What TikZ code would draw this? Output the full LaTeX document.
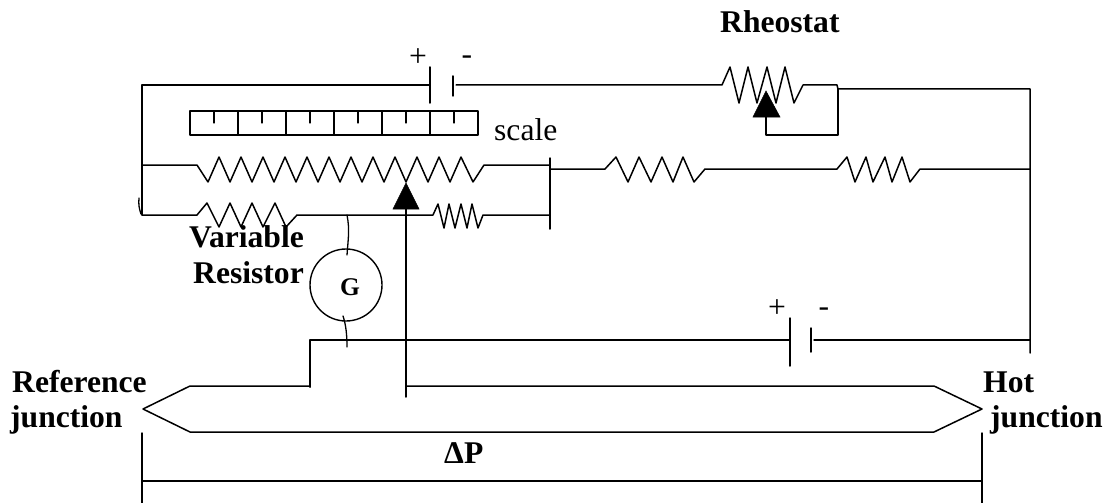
\documentclass[tikz,border=0pt]{standalone}
\usepackage{fontspec}
\setmainfont{Liberation Serif}
\tikzset{
  x=1pt,y=-1pt,
  wire/.style={line width=1.5pt,line cap=round,line join=round,draw=black},
  thinwire/.style={line width=1.3pt,line cap=round,draw=black},
  dimwire/.style={line width=2pt,draw=black},
  slider/.style={fill=black,draw=black,line width=0.5pt},
  lab/.style={font=\fontsize{31.6}{35}\selectfont\bfseries,inner sep=0pt,anchor=base west},
  plainlab/.style={font=\fontsize{31.6}{35}\selectfont,inner sep=0pt,anchor=base west},
  sign/.style={font=\fontsize{31.6}{35}\selectfont,inner sep=0pt},
  gauge/.style={circle,draw=black,line width=1.4pt,minimum size=72pt,inner sep=0pt},
}
\begin{document}
\begin{tikzpicture}
\useasboundingbox (0,0) rectangle (1109,503);
% junction coordinates
\coordinate (tl) at (142,85);
\coordinate (ml) at (142,165);
\coordinate (ll) at (142,215);
\coordinate (barT) at (550,158);
\coordinate (barB) at (550,229);
\coordinate (barM) at (550,169);
\coordinate (tr) at (1030,89);
\coordinate (mr) at (1030,169);
\coordinate (br) at (1030,340);
\coordinate (brEnd) at (1030,353);
\coordinate (batA) at (430,85);
\coordinate (batB) at (456,85);
\coordinate (rhE) at (837,85);
\coordinate (rhF) at (838,89);
\coordinate (rhG) at (838,135);
\coordinate (rhH) at (766,135);
\coordinate (gT) at (347,215);
\coordinate (gB) at (347,347);
\coordinate (lw) at (310,340);
\coordinate (lwD) at (310,387);
\coordinate (bat2A) at (790,340);
\coordinate (bat2B) at (814,340);
\coordinate (tipL) at (143,409);
\coordinate (tipR) at (982,409);
\coordinate (stemT) at (406,209);
\coordinate (stemB) at (406,397);
\coordinate (stemJ) at (406,386);
% frame and top wire
\draw[wire] (batA) -- (tl) -- (ll);
\draw[thinwire] (139,198) to[bend right=12] (141,214);
% top battery
\draw[wire] (430,67) -- (430,103);
\draw[wire] (453,76) -- (453,96);
% rheostat
\draw[wire] (batB) -- (722,85) -- (730,67) -- (739,103) -- (748,67) -- (757,103) -- (767,67) -- (776,103) -- (785,67) -- (794,103) -- (803,85) -- (rhE) -- (rhF) -- (tr) -- (brEnd);
\draw[wire] (rhF) -- (rhG) -- (rhH) -- (766,117);
\path[slider] (766,91) -- (780,117) -- (753,117) -- cycle;
% scale
\draw[wire] (190,111) rectangle (478,135);
\foreach \x in {238,286,334,382,430} \draw[wire] (\x,111) -- (\x,135);
\foreach \x in {214,262,310,358,406,454} \draw[thinwire] (\x,111) -- (\x,123);
\node[plainlab] (scaleLab) at (494,140) {scale};
% long slide wire
\draw[wire] (ml) -- (197,165)
  \foreach \k in {0,...,11} { -- ({208+22*\k},182) -- ({219+22*\k},157) }
  -- (473,182) -- (484,165) -- (550,165);
\draw[wire] (barT) -- (barB);
% lower branch
\draw[wire] (ll) -- (197,215) -- (207,203) -- (219,227) -- (230,203) -- (241,227) -- (252,203) -- (263,227) -- (275,203) -- (286,227) -- (297,215) -- (433,215)
  -- (438,204) -- (444,228) -- (449,204) -- (455,228) -- (461,204) -- (467,228) -- (472,204) -- (478,228) -- (483,215) -- (550,215);
% middle right branch
\draw[wire] (barM) -- (605,169) -- (616,157) -- (628,182) -- (639,157) -- (651,182) -- (662,157) -- (673,182) -- (683,157) -- (694,182) -- (705,169) -- (837,169)
  -- (847,157) -- (855,182) -- (866,157) -- (873,182) -- (885,157) -- (892,182) -- (902,157) -- (910,182) -- (920,169) -- (mr);
% slider on slide wire
\draw[wire] (stemT) -- (stemB);
\path[slider] (406,183) -- (419,209) -- (393,209) -- cycle;
% galvanometer
\node[gauge] (G) at (346,285) {};
\node[lab,font=\fontsize{25.5}{28}\selectfont\bfseries,anchor=base] (Glab) at (350,295) {G};
\draw[thinwire] (gT) .. controls (350,230) and (348,240) .. (347,255);
\draw[thinwire] (343,316) .. controls (346,325) and (347,335) .. (gB);
% lower wire and second battery
\draw[wire] (lwD) -- (lw) -- (bat2A);
\draw[wire] (790,318) -- (790,366);
\draw[wire] (811,328) -- (811,352);
\draw[wire] (bat2B) -- (br);
% thermocouple
\draw[wire] (lwD) -- (310,386) -- (190,386) -- (tipL) -- (190,432) -- (934,432) -- (tipR) -- (934,386) -- (stemJ);
% dimension
\draw[wire] (142,433) -- (142,503);
\draw[wire] (982,433) -- (982,503);
\draw[dimwire] (142,481) -- (982,481);
% signs
\node[sign] (p1) at (418,58) {+};
\node[sign] (m1) at (467,60) {-};
\node[sign] (p2) at (777,309) {+};
\node[sign] (m2) at (824,312) {-};
% labels
\node[lab] (rh) at (720,33) {Rheostat};
\node[lab,anchor=base east] (var) at (304,247) {Variable};
\node[lab,anchor=base east] (res) at (304,283) {Resistor};
\node[lab] (ref) at (12,392) {Reference};
\node[lab] (refj) at (10,427) {junction};
\node[lab] (hot) at (983,392) {Hot};
\node[lab] (hotj) at (990,427) {junction};
\node[lab] (dp) at (444,463) {ΔP};
\end{tikzpicture}
\end{document}
